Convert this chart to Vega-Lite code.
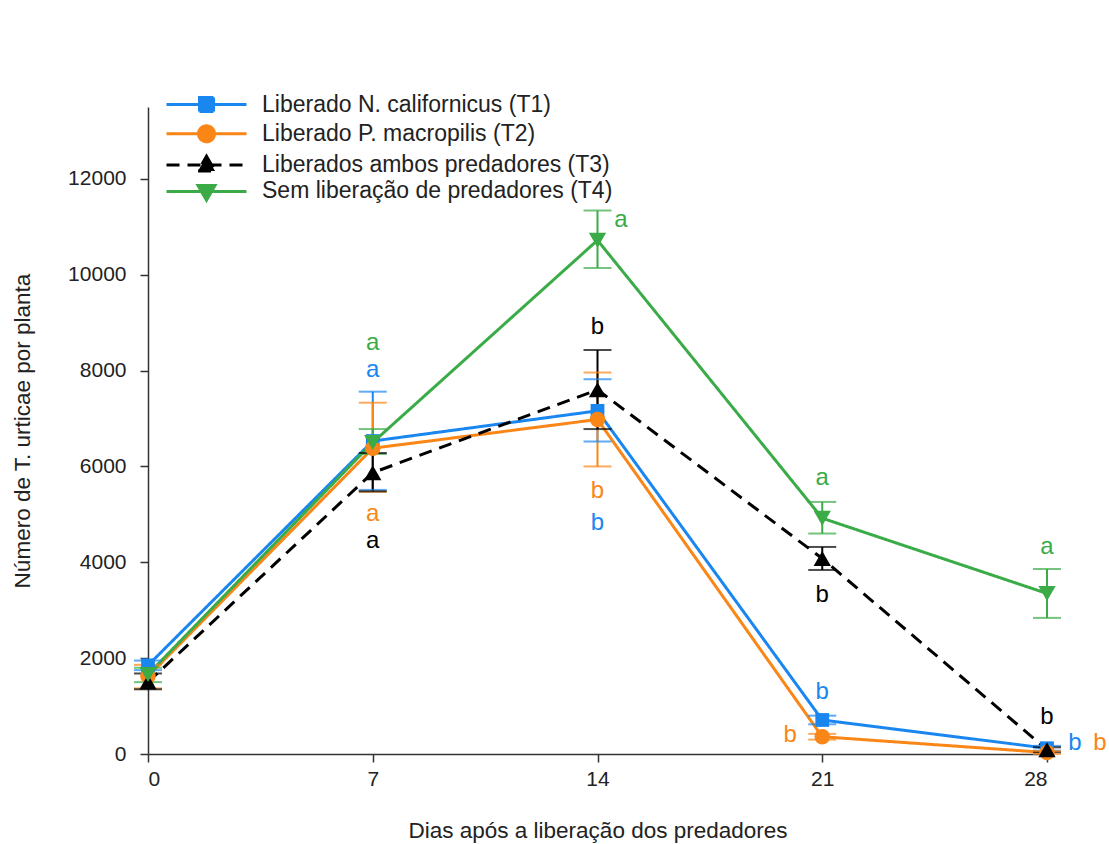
{
  "$schema": "https://vega.github.io/schema/vega-lite/v6.json",
  "autosize": {"type": "none"},
  "padding": {"left": 148, "top": 107, "right": 62, "bottom": 90},
  "width": 899,
  "height": 647,
  "background": "white",
  "config": {
    "font": "Liberation Sans",
    "view": {"stroke": null},
    "axis": {
      "grid": false,
      "domainColor": "#333",
      "domainWidth": 1.5,
      "tickColor": "#333",
      "tickWidth": 1.5,
      "tickSize": 8,
      "labelFont": "Liberation Sans",
      "labelFontSize": 21,
      "labelColor": "#222",
      "titleFont": "Liberation Sans",
      "titleFontSize": 22.5,
      "titleFontWeight": "normal",
      "titleColor": "#222"
    }
  },
  "datasets": {
    "means": [
      {"day": 0, "trat": "Liberado N. californicus (T1)", "mean": 1850, "lo": 1750, "hi": 1950},
      {"day": 7, "trat": "Liberado N. californicus (T1)", "mean": 6530, "lo": 5510, "hi": 7560},
      {"day": 14, "trat": "Liberado N. californicus (T1)", "mean": 7160, "lo": 6520, "hi": 7820},
      {"day": 21, "trat": "Liberado N. californicus (T1)", "mean": 710, "lo": 620, "hi": 800},
      {"day": 28, "trat": "Liberado N. californicus (T1)", "mean": 120, "lo": 70, "hi": 170},
      {"day": 0, "trat": "Liberado P. macropilis (T2)", "mean": 1620, "lo": 1370, "hi": 1860},
      {"day": 7, "trat": "Liberado P. macropilis (T2)", "mean": 6380, "lo": 5470, "hi": 7330},
      {"day": 14, "trat": "Liberado P. macropilis (T2)", "mean": 6980, "lo": 6000, "hi": 7960},
      {"day": 21, "trat": "Liberado P. macropilis (T2)", "mean": 360, "lo": 300, "hi": 420},
      {"day": 28, "trat": "Liberado P. macropilis (T2)", "mean": 30, "lo": 0, "hi": 60},
      {"day": 0, "trat": "Liberados ambos predadores (T3)", "mean": 1500, "lo": 1350, "hi": 1680},
      {"day": 7, "trat": "Liberados ambos predadores (T3)", "mean": 5870, "lo": 5480, "hi": 6280},
      {"day": 14, "trat": "Liberados ambos predadores (T3)", "mean": 7600, "lo": 6780, "hi": 8430},
      {"day": 21, "trat": "Liberados ambos predadores (T3)", "mean": 4080, "lo": 3840, "hi": 4320},
      {"day": 28, "trat": "Liberados ambos predadores (T3)", "mean": 90, "lo": 40, "hi": 140},
      {"day": 0, "trat": "Sem liberação de predadores (T4)", "mean": 1660, "lo": 1500, "hi": 1800},
      {"day": 7, "trat": "Sem liberação de predadores (T4)", "mean": 6500, "lo": 6260, "hi": 6780},
      {"day": 14, "trat": "Sem liberação de predadores (T4)", "mean": 10720, "lo": 10140, "hi": 11340},
      {"day": 21, "trat": "Sem liberação de predadores (T4)", "mean": 4920, "lo": 4600, "hi": 5260},
      {"day": 28, "trat": "Sem liberação de predadores (T4)", "mean": 3350, "lo": 2840, "hi": 3860}
    ],
    "letters": [
      {"x": 7, "y": 8580, "letter": "a", "trat": "Sem liberação de predadores (T4)"},
      {"x": 7, "y": 8010, "letter": "a", "trat": "Liberado N. californicus (T1)"},
      {"x": 7, "y": 5010, "letter": "a", "trat": "Liberado P. macropilis (T2)"},
      {"x": 7, "y": 4440, "letter": "a", "trat": "Liberados ambos predadores (T3)"},
      {"x": 14.73, "y": 11140, "letter": "a", "trat": "Sem liberação de predadores (T4)"},
      {"x": 14, "y": 8910, "letter": "b", "trat": "Liberados ambos predadores (T3)"},
      {"x": 14, "y": 5490, "letter": "b", "trat": "Liberado P. macropilis (T2)"},
      {"x": 14, "y": 4820, "letter": "b", "trat": "Liberado N. californicus (T1)"},
      {"x": 21, "y": 5760, "letter": "a", "trat": "Sem liberação de predadores (T4)"},
      {"x": 21, "y": 3320, "letter": "b", "trat": "Liberados ambos predadores (T3)"},
      {"x": 21, "y": 1300, "letter": "b", "trat": "Liberado N. californicus (T1)"},
      {"x": 20.0, "y": 400, "letter": "b", "trat": "Liberado P. macropilis (T2)"},
      {"x": 28, "y": 4320, "letter": "a", "trat": "Sem liberação de predadores (T4)"},
      {"x": 28, "y": 770, "letter": "b", "trat": "Liberados ambos predadores (T3)"},
      {"x": 28.87, "y": 230, "letter": "b", "trat": "Liberado N. californicus (T1)"},
      {"x": 29.65, "y": 230, "letter": "b", "trat": "Liberado P. macropilis (T2)"}
    ]
  },
  "layer": [
    {
      "data": {"name": "means"},
      "mark": {"type": "line", "strokeWidth": 3},
      "encoding": {
        "x": {"field": "day", "type": "quantitative",
          "scale": {"domain": [0, 28], "nice": false, "zero": false},
          "axis": {"values": [0, 7, 14, 21, 28], "format": "d", "title": "Dias após a liberação dos predadores", "labelPadding": 6, "titlePadding": 30}},
        "y": {"field": "mean", "type": "quantitative",
          "scale": {"domain": [0, 13500], "nice": false},
          "axis": {"values": [0, 2000, 4000, 6000, 8000, 10000, 12000], "format": "d", "title": "Número de T. urticae por planta", "labelPadding": 14, "titlePadding": 33}},
        "color": {"field": "trat", "type": "nominal",
          "scale": {"domain": ["Liberado N. californicus (T1)", "Liberado P. macropilis (T2)", "Liberados ambos predadores (T3)", "Sem liberação de predadores (T4)"],
            "range": ["#1a86ef", "#f98617", "#000000", "#3aab47"]},
          "legend": {
            "title": null, "orient": "none", "legendX": 47, "legendY": -14,
            "padding": 0, "rowPadding": 1.3, "labelOffset": 44,
            "labelFontSize": 23, "labelColor": "#222", "labelFont": "Liberation Sans",
            "symbolSize": 400, "labelLimit": 600,
            "encode": {"symbols": {"update": {
              "shape": {"signal": "datum.index === 0 ? 'M-4,0L4,0M-0.7,-0.7L0.7,-0.7L0.7,0.7L-0.7,0.7Z' : datum.index === 1 ? 'M-4,0L4,0M-0.8,0A0.8,0.8,0,1,1,0.8,0A0.8,0.8,0,1,1,-0.8,0Z' : datum.index === 2 ? 'M-4,0L4,0M0,-0.88L0.85,0.6L-0.85,0.6Z' : 'M-4,0L4,0M0,0.88L0.85,-0.6L-0.85,-0.6Z'"},
              "fill": {"signal": "scale('color', datum.value)"},
              "stroke": {"signal": "scale('color', datum.value)"},
              "strokeWidth": {"value": 3},
              "size": {"value": 400},
              "opacity": {"value": 1}
            }}}
          }},
        "strokeDash": {"field": "trat", "type": "nominal",
          "scale": {"domain": ["Liberado N. californicus (T1)", "Liberado P. macropilis (T2)", "Liberados ambos predadores (T3)", "Sem liberação de predadores (T4)"],
            "range": [[1, 0], [1, 0], [13, 8], [1, 0]]},
          "legend": null}
      }
    },
    {
      "data": {"name": "means"},
      "mark": {"type": "rule", "strokeWidth": 2},
      "encoding": {
        "x": {"field": "day", "type": "quantitative"},
        "y": {"field": "lo", "type": "quantitative"},
        "y2": {"field": "hi"},
        "color": {"field": "trat", "type": "nominal", "legend": null}
      }
    },
    {
      "data": {"name": "means"},
      "mark": {"type": "tick", "orient": "horizontal", "size": 28, "thickness": 2},
      "encoding": {
        "x": {"field": "day", "type": "quantitative"},
        "y": {"field": "lo", "type": "quantitative"},
        "color": {"field": "trat", "type": "nominal", "legend": null}
      }
    },
    {
      "data": {"name": "means"},
      "mark": {"type": "tick", "orient": "horizontal", "size": 28, "thickness": 2},
      "encoding": {
        "x": {"field": "day", "type": "quantitative"},
        "y": {"field": "hi", "type": "quantitative"},
        "color": {"field": "trat", "type": "nominal", "legend": null}
      }
    },
    {
      "data": {"name": "means"},
      "transform": [{"filter": "datum.trat === 'Liberado N. californicus (T1)'"}],
      "mark": {"type": "point", "shape": "square", "filled": true, "opacity": 1, "size": 190},
      "encoding": {
        "x": {"field": "day", "type": "quantitative"},
        "y": {"field": "mean", "type": "quantitative"},
        "color": {"field": "trat", "type": "nominal", "legend": null}
      }
    },
    {
      "data": {"name": "means"},
      "transform": [{"filter": "datum.trat === 'Liberado P. macropilis (T2)'"}],
      "mark": {"type": "point", "shape": "circle", "filled": true, "opacity": 1, "size": 240},
      "encoding": {
        "x": {"field": "day", "type": "quantitative"},
        "y": {"field": "mean", "type": "quantitative"},
        "color": {"field": "trat", "type": "nominal", "legend": null}
      }
    },
    {
      "data": {"name": "means"},
      "transform": [{"filter": "datum.trat === 'Liberados ambos predadores (T3)'"}],
      "mark": {"type": "point", "shape": "triangle-up", "filled": true, "opacity": 1, "size": 300},
      "encoding": {
        "x": {"field": "day", "type": "quantitative"},
        "y": {"field": "mean", "type": "quantitative"},
        "color": {"field": "trat", "type": "nominal", "legend": null}
      }
    },
    {
      "data": {"name": "means"},
      "transform": [{"filter": "datum.trat === 'Sem liberação de predadores (T4)'"}],
      "mark": {"type": "point", "shape": "triangle-down", "filled": true, "opacity": 1, "size": 300},
      "encoding": {
        "x": {"field": "day", "type": "quantitative"},
        "y": {"field": "mean", "type": "quantitative"},
        "color": {"field": "trat", "type": "nominal", "legend": null}
      }
    },
    {
      "data": {"name": "letters"},
      "mark": {"type": "text", "fontSize": 24, "font": "Liberation Sans", "baseline": "middle", "align": "center"},
      "encoding": {
        "x": {"field": "x", "type": "quantitative"},
        "y": {"field": "y", "type": "quantitative"},
        "text": {"field": "letter"},
        "color": {"field": "trat", "type": "nominal", "legend": null}
      }
    }
  ]
}
